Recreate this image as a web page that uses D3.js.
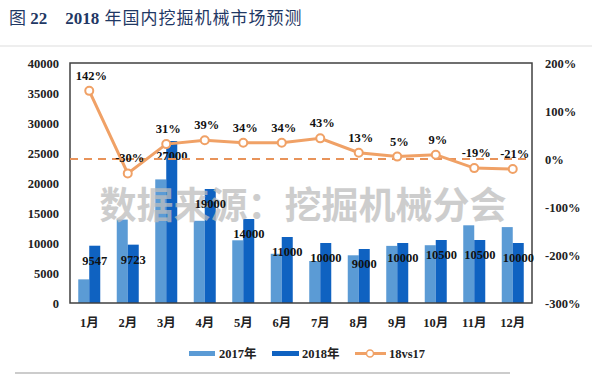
<!DOCTYPE html>
<html><head><meta charset="utf-8">
<script src="https://cdn.jsdelivr.net/npm/d3@7"></script>
<style>
body{margin:0;background:#fff;}
svg{display:block;}
.num{font-family:"Liberation Serif","Times New Roman","Noto Sans CJK SC",serif;font-weight:bold;}
</style></head>
<body>
<svg id="c" width="600" height="380"></svg>
<script>
const months = ["1月","2月","3月","4月","5月","6月","7月","8月","9月","10月","11月","12月"];
const sales2017 = [3940, 13900, 20600, 13700, 10450, 8200, 7000, 7950, 9520, 9630, 12950, 12650];
const sales2018 = [9547, 9723, 27000, 19000, 14000, 11000, 10000, 9000, 10000, 10500, 10500, 10000];
const growth = [142, -30, 31, 39, 34, 34, 43, 13, 5, 9, -19, -21];
const leftTicks = [0,5000,10000,15000,20000,25000,30000,35000,40000];
const rightTicks = [-300,-200,-100,0,100,200];

const svg = d3.select("#c");
const L = 70, R = 532, T = 63, B = 303;
const serif = '"Liberation Serif","Times New Roman","Noto Sans CJK SC",serif';

// title
const title = svg.append("text").attr("x",9).attr("y",24).attr("fill","#1f3864")
  .attr("font-family",serif).attr("font-size",17);
title.append("tspan").text("图 ");
title.append("tspan").attr("font-weight","bold").text("22");
title.append("tspan").attr("dx",18).attr("font-weight","bold").text("2018");
title.append("tspan").attr("letter-spacing",1).text(" 年国内挖掘机械市场预测");
svg.append("line").attr("x1",0).attr("x2",592).attr("y1",46).attr("y2",46)
  .attr("stroke","#ddd").attr("stroke-width",1);

const x = d3.scaleBand().domain(months).range([L,R]);
const xi = d3.scaleBand().domain(["2017","2018"]).range([0,22]);
const yL = d3.scaleLinear().domain([0,40000]).range([B,T]);
const yR = d3.scaleLinear().domain([-300,200]).range([B,T]);
const cx = m => x(m) + x.bandwidth()/2;
const off = (x.bandwidth()-22)/2;

// bars
svg.append("g").selectAll("rect").data(months).join("rect")
  .attr("x",m=>x(m)+off+xi("2017")).attr("width",xi.bandwidth())
  .attr("y",(m,i)=>yL(sales2017[i])).attr("height",(m,i)=>B-yL(sales2017[i]))
  .attr("fill","#5b9bd5");
svg.append("g").selectAll("rect").data(months).join("rect")
  .attr("x",m=>x(m)+off+xi("2018")).attr("width",xi.bandwidth())
  .attr("y",(m,i)=>yL(sales2018[i])).attr("height",(m,i)=>B-yL(sales2018[i]))
  .attr("fill","#0f62c1");

// watermark
svg.append("text").attr("x",303).attr("y",219).attr("text-anchor","middle")
  .attr("font-family",'"Noto Sans CJK SC",sans-serif').attr("font-weight","bold")
  .attr("font-size",37).attr("fill","#bdbdbd").attr("opacity",0.75)
  .text("数据来源：挖掘机械分会");

// frame
svg.append("rect").attr("x",L).attr("y",T).attr("width",R-L).attr("height",B-T)
  .attr("fill","none").attr("stroke","#404040").attr("stroke-width",1.5);

// left axis
const gl = svg.append("g").attr("transform",`translate(${L},0)`)
  .call(d3.axisLeft(yL).tickValues(leftTicks).tickSize(0).tickPadding(11).tickFormat(d3.format("d")));
gl.select(".domain").remove();
gl.selectAll("text").attr("class","num").attr("font-size",12.5).attr("fill","#222");

// right axis
const gr = svg.append("g").attr("transform",`translate(${R},0)`)
  .call(d3.axisRight(yR).tickValues(rightTicks).tickSize(0).tickPadding(13).tickFormat(d=>d+"%"));
gr.select(".domain").remove();
gr.selectAll("text").attr("class","num").attr("font-size",12.5).attr("fill","#222");

// x axis
const gx = svg.append("g").attr("transform",`translate(0,${B})`)
  .call(d3.axisBottom(x).tickSize(0).tickPadding(15));
gx.select(".domain").remove();
gx.selectAll("text").attr("class","num").attr("font-size",12.5).attr("fill","#222");

// bar labels
svg.append("g").selectAll("text").data(months).join("text").attr("class","num")
  .attr("x",m=>x(m)+off+xi("2018")+xi.bandwidth()/2).attr("y",(m,i)=>yL(sales2018[i])+19)
  .attr("text-anchor","middle").attr("font-size",12.5).attr("fill","#111")
  .text((m,i)=>sales2018[i]);

// zero dashed line
svg.append("line").attr("x1",L).attr("x2",R).attr("y1",yR(0)).attr("y2",yR(0))
  .attr("stroke","#e8935a").attr("stroke-width",2).attr("stroke-dasharray","8,6");

// growth line
const line = d3.line().x((d,i)=>cx(months[i])).y(d=>yR(d));
svg.append("path").datum(growth).attr("d",line).attr("fill","none")
  .attr("stroke","#f0a166").attr("stroke-width",3);
svg.append("g").selectAll("circle").data(growth).join("circle")
  .attr("cx",(d,i)=>cx(months[i])).attr("cy",d=>yR(d)).attr("r",4)
  .attr("fill","#fff").attr("stroke","#f0a166").attr("stroke-width",2);
svg.append("g").selectAll("text").data(growth).join("text").attr("class","num")
  .attr("x",(d,i)=>cx(months[i])+2).attr("y",d=>yR(d)-11)
  .attr("text-anchor","middle").attr("font-size",12.5).attr("fill","#111")
  .text(d=>d+"%");

// legend
const lg = svg.append("g").attr("class","num").attr("font-size",12.5).attr("fill","#222");
lg.append("rect").attr("x",189).attr("y",351).attr("width",26).attr("height",5).attr("fill","#5b9bd5");
lg.append("text").attr("x",219).attr("y",358).text("2017年");
lg.append("rect").attr("x",272).attr("y",351).attr("width",27).attr("height",5).attr("fill","#0f62c1");
lg.append("text").attr("x",302).attr("y",358).text("2018年");
lg.append("line").attr("x1",355).attr("x2",386).attr("y1",353.5).attr("y2",353.5)
  .attr("stroke","#f0a166").attr("stroke-width",3);
lg.append("circle").attr("cx",370).attr("cy",353.5).attr("r",3.5)
  .attr("fill","#fff").attr("stroke","#f0a166").attr("stroke-width",1.5);
lg.append("text").attr("x",389).attr("y",358).text("18vs17");

svg.append("line").attr("x1",15).attr("x2",510).attr("y1",373).attr("y2",373)
  .attr("stroke","#bbb").attr("stroke-width",1.5);
</script>
</body></html>
